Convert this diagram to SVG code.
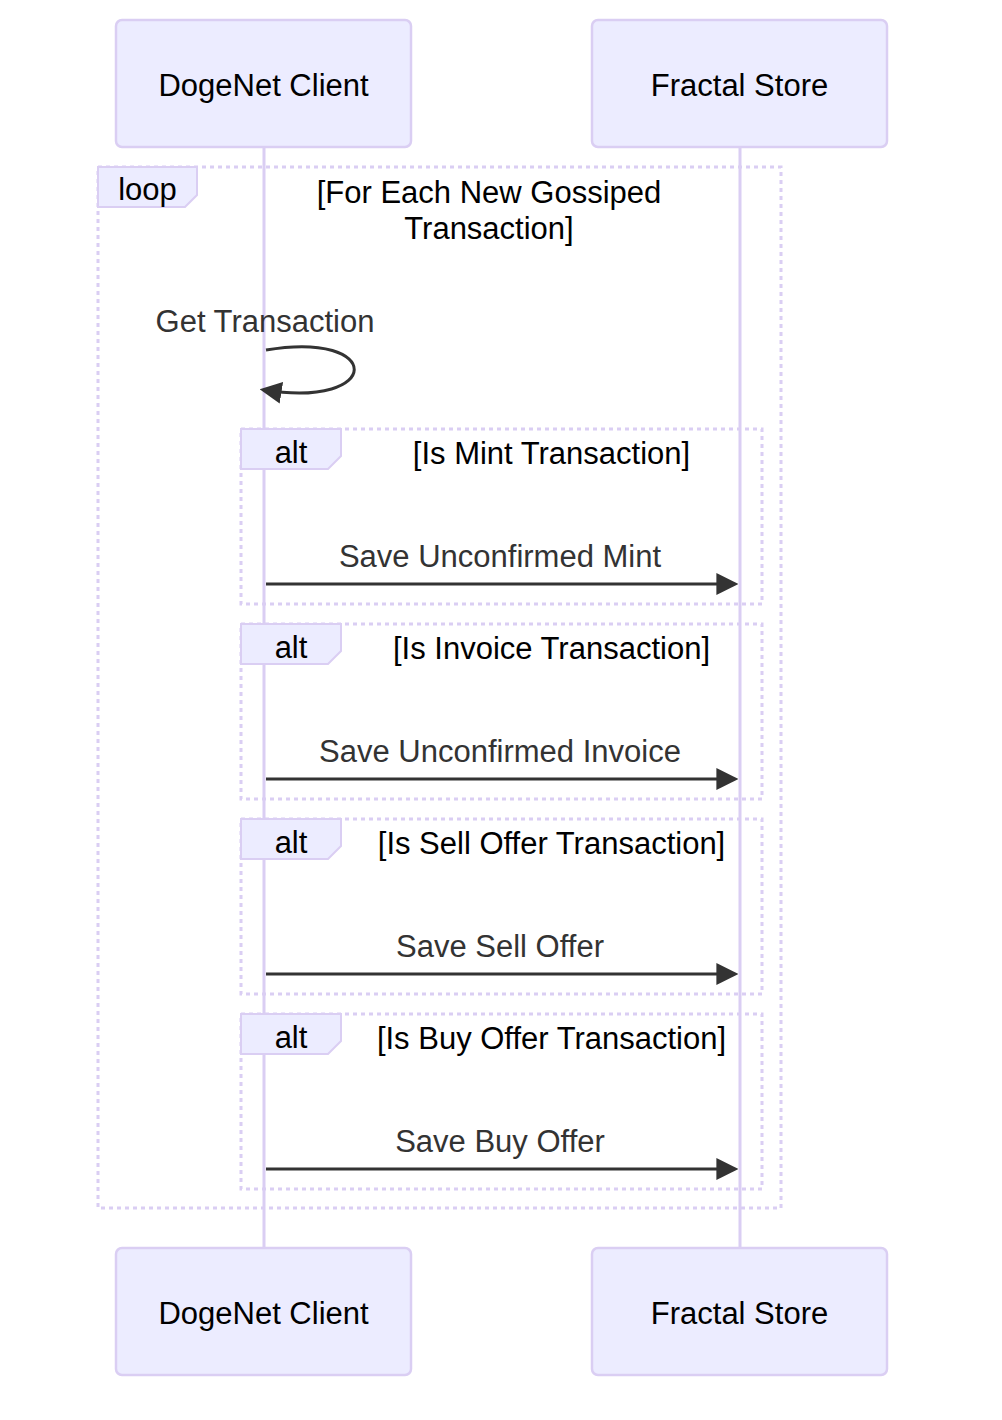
<svg xmlns="http://www.w3.org/2000/svg" width="1002" height="1420" viewBox="0 0 1002 1420">
<style>
.actor{fill:#ECECFF;stroke:#DACEF3;stroke-width:2.5}
.atext{font-family:"Liberation Sans",Arial,sans-serif;font-size:31px;fill:#000;text-anchor:middle}
.life{stroke:#DACEF3;stroke-width:3;fill:none}
.frame{fill:none;stroke:#DACEF3;stroke-width:3;stroke-dasharray:4 4}
.lbox{fill:#ECECFF;stroke:#DACEF3;stroke-width:2}
.ltext{font-family:"Liberation Sans",Arial,sans-serif;font-size:31px;fill:#000;text-anchor:middle}
.mtext{font-family:"Liberation Sans",Arial,sans-serif;font-size:31px;fill:#333;text-anchor:middle}
.msg{fill:none;stroke:#333;stroke-width:3}
</style>
<defs>
<marker id="arrow" markerUnits="userSpaceOnUse" markerWidth="22" markerHeight="22" viewBox="0 0 20 20" refX="16" refY="10" orient="auto">
<path d="M0,0 L20,10 L0,20 z" fill="#333"/>
</marker>
</defs>
<g id="lifelines">
<line class="life" x1="264" y1="147" x2="264" y2="1248"/>
<line class="life" x1="740" y1="147" x2="740" y2="1248"/>
</g>
<g id="actor-client-top">
<rect class="actor" x="116" y="20" width="295" height="127" rx="6"/>
<text class="atext" x="263.5" y="96">DogeNet Client</text>
</g>
<g id="actor-store-top">
<rect class="actor" x="592" y="20" width="295" height="127" rx="6"/>
<text class="atext" x="739.5" y="96">Fractal Store</text>
</g>
<g id="loop">
<rect class="frame" x="98" y="167" width="683" height="1041"/>
<polygon class="lbox" points="98,167 197,167 197,195 185,207 98,207"/>
<text class="ltext" x="147.5" y="200">loop</text>
<text class="ltext" x="489" y="203">[For Each New Gossiped</text>
<text class="ltext" x="489" y="239">Transaction]</text>
</g>
<g id="alt-mint">
<rect class="frame" x="241" y="429" width="521" height="175"/>
<polygon class="lbox" points="241,429 341,429 341,456 328,469 241,469"/>
<text class="ltext" x="291" y="463">alt</text>
<text class="ltext" x="551.5" y="464">[Is Mint Transaction]</text>
</g>
<g id="alt-invoice">
<rect class="frame" x="241" y="624" width="521" height="175"/>
<polygon class="lbox" points="241,624 341,624 341,651 328,664 241,664"/>
<text class="ltext" x="291" y="658">alt</text>
<text class="ltext" x="551.5" y="659">[Is Invoice Transaction]</text>
</g>
<g id="alt-sell">
<rect class="frame" x="241" y="819" width="521" height="175"/>
<polygon class="lbox" points="241,819 341,819 341,846 328,859 241,859"/>
<text class="ltext" x="291" y="853">alt</text>
<text class="ltext" x="551.5" y="854">[Is Sell Offer Transaction]</text>
</g>
<g id="alt-buy">
<rect class="frame" x="241" y="1014" width="521" height="175"/>
<polygon class="lbox" points="241,1014 341,1014 341,1041 328,1054 241,1054"/>
<text class="ltext" x="291" y="1048">alt</text>
<text class="ltext" x="551.5" y="1049">[Is Buy Offer Transaction]</text>
</g>
<g id="connectors">
<text class="mtext" x="265" y="332">Get Transaction</text>
<path class="msg" d="M266,350 C384,330 384,409 264,390" marker-end="url(#arrow)"/>
<text class="mtext" x="500" y="567">Save Unconfirmed Mint</text>
<line class="msg" x1="266" y1="584" x2="734" y2="584" marker-end="url(#arrow)"/>
<text class="mtext" x="500" y="762">Save Unconfirmed Invoice</text>
<line class="msg" x1="266" y1="779" x2="734" y2="779" marker-end="url(#arrow)"/>
<text class="mtext" x="500" y="957">Save Sell Offer</text>
<line class="msg" x1="266" y1="974" x2="734" y2="974" marker-end="url(#arrow)"/>
<text class="mtext" x="500" y="1152">Save Buy Offer</text>
<line class="msg" x1="266" y1="1169" x2="734" y2="1169" marker-end="url(#arrow)"/>
</g>
<g id="actor-client-bottom">
<rect class="actor" x="116" y="1248" width="295" height="127" rx="6"/>
<text class="atext" x="263.5" y="1324">DogeNet Client</text>
</g>
<g id="actor-store-bottom">
<rect class="actor" x="592" y="1248" width="295" height="127" rx="6"/>
<text class="atext" x="739.5" y="1324">Fractal Store</text>
</g>
</svg>
